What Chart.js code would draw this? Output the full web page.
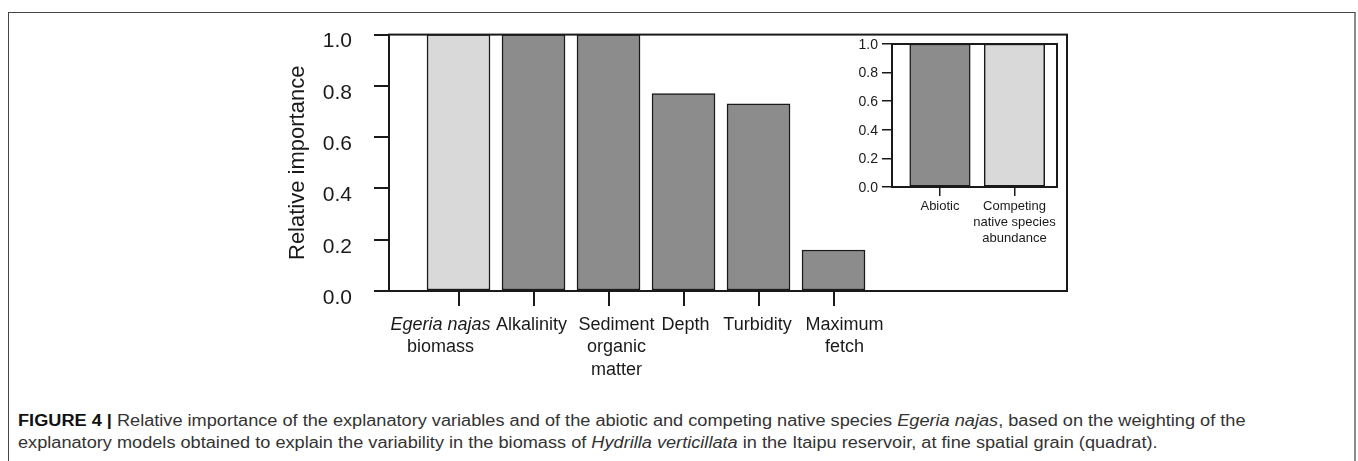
<!DOCTYPE html>
<html>
<head>
<meta charset="utf-8">
<script src="https://cdn.jsdelivr.net/npm/chart.js@4.4.0/dist/chart.umd.min.js"></script>
<style>
  html, body { margin: 0; padding: 0; background: #fff; }
  body { width: 1358px; height: 461px; position: relative; overflow: hidden; font-family: 'Liberation Sans', Arial, sans-serif; }
  #frame { position: absolute; left: 8px; top: 12px; width: 1348px; height: 470px; box-sizing: border-box;
           border-top: 1px solid #444; border-left: 1px solid #444; border-right: 2px solid #8a8a8a; }
  #mainChart { position: absolute; left: 0; top: 0; }
  #insetChart { position: absolute; left: 800px; top: 0; }
  #caption { position: absolute; left: 18px; top: 410px; font-size: 16px; line-height: 22px; color: #333; }
  #caption .line { display: block; white-space: nowrap; transform-origin: left center; }
  #caption b { color: #111; }
</style>
</head>
<body>
<div id="frame"></div>
<canvas id="mainChart" width="1358" height="400"></canvas>
<canvas id="insetChart" width="300" height="280"></canvas>
<div id="caption">
  <span class="line" id="cap1"><b>FIGURE 4 |</b> Relative importance of the explanatory variables and of the abiotic and competing native species <i>Egeria najas</i>, based on the weighting of the</span>
  <span class="line" id="cap2">explanatory models obtained to explain the variability in the biomass of <i>Hydrilla verticillata</i> in the Itaipu reservoir, at fine spatial grain (quadrat).</span>
</div>
<script>
// Main chart data
const variableLabels = [
  ['Egeria najas', 'biomass'],
  ['Alkalinity'],
  ['Sediment', 'organic', 'matter'],
  ['Depth'],
  ['Turbidity'],
  ['Maximum', 'fetch']
];
const italicLines = ['Egeria najas'];
const variableGroup = ['competing', 'abiotic', 'abiotic', 'abiotic', 'abiotic', 'abiotic'];
const importance = [1.0, 1.0, 1.0, 0.77, 0.73, 0.16];

// Inset data
const groupLabels = [['Abiotic'], ['Competing', 'native species', 'abundance']];
const groupKeys = ['abiotic', 'competing'];
const groupImportance = [1.0, 1.0];

const yTicks = [0, 0.2, 0.4, 0.6, 0.8, 1.0];

// Look
const ink = '#1a1a1a';
const fills = { abiotic: '#8c8c8c', competing: '#d9d9d9' };
// label nudges (px) as in the original figure
const labelShift = [-18, -2, 8, 2, -1, 11];

// draws box around plot area
const boxPlugin = {
  id: 'box',
  afterDatasetsDraw(chart) {
    const { ctx, chartArea: a } = chart;
    ctx.save();
    ctx.strokeStyle = ink;
    ctx.lineWidth = 2;
    ctx.strokeRect(a.left, a.top, a.right - a.left, a.bottom - a.top);
    ctx.restore();
  }
};

// x labels of main chart (needs mixed italic)
const xLabelPlugin = {
  id: 'xLabels',
  afterDraw(chart) {
    const { ctx, scales: { x } } = chart;
    ctx.save();
    ctx.fillStyle = ink;
    ctx.textAlign = 'center';
    ctx.textBaseline = 'middle';
    variableLabels.forEach((lines, i) => {
      const px = x.getPixelForValue(i + 1) + labelShift[i];
      lines.forEach((line, j) => {
        const it = italicLines.includes(line) ? 'italic ' : '';
        ctx.font = it + "18px 'Liberation Sans', Arial, sans-serif";
        ctx.fillText(line, px, x.top + 34 + j * 22.5);
      });
    });
    ctx.restore();
  }
};

Chart.defaults.font.family = "'Liberation Sans', Arial, sans-serif";
Chart.defaults.color = ink;

new Chart(document.getElementById('mainChart'), {
  type: 'bar',
  data: {
    datasets: [{
      data: importance.map((v, i) => ({ x: i + 1, y: v })),
      backgroundColor: variableGroup.map(g => fills[g]),
      borderColor: ink,
      borderWidth: 1.5,
      borderSkipped: false,
      barThickness: 63
    }]
  },
  options: {
    responsive: false,
    animation: false,
    layout: { padding: { left: 270, top: 33, right: 291, bottom: 9 } },
    plugins: { legend: { display: false }, tooltip: { enabled: false } },
    scales: {
      x: {
        type: 'linear',
        min: 0.073,
        max: 9.113,
        offset: false,
        afterBuildTicks: s => { s.ticks = variableLabels.map((_, i) => ({ value: i + 1 })); },
        afterFit: s => { s.height = 100; },
        ticks: { callback: () => '' },
        grid: { offset: false, drawOnChartArea: false, drawTicks: true, tickLength: 15, color: ink, lineWidth: 2 },
        border: { display: true, color: ink, width: 2 }
      },
      y: {
        min: 0,
        max: 1,
        afterBuildTicks: s => { s.ticks = yTicks.map(v => ({ value: v })); },
        afterFit: s => { s.width = 119; },
        ticks: { callback: v => v.toFixed(1), font: { size: 21 }, color: ink, padding: 22, labelOffset: 7 },
        grid: { drawOnChartArea: false, tickLength: 15, color: ink, lineWidth: 2 },
        border: { color: ink, width: 2 },
        title: { display: true, text: 'Relative importance', font: { size: 22 }, color: ink, padding: { top: 15, bottom: 0 } }
      }
    }
  },
  plugins: [boxPlugin, xLabelPlugin]
});

new Chart(document.getElementById('insetChart'), {
  type: 'bar',
  data: {
    datasets: [{
      data: groupImportance.map((v, i) => ({ x: i + 1, y: v })),
      backgroundColor: groupKeys.map(g => fills[g]),
      borderColor: ink,
      borderWidth: 1.5,
      borderSkipped: false,
      barThickness: 60.5
    }]
  },
  options: {
    responsive: false,
    animation: false,
    layout: { padding: { left: 40, top: 44, right: 43, bottom: 33 } },
    plugins: { legend: { display: false }, tooltip: { enabled: false } },
    scales: {
      x: {
        type: 'linear',
        min: 0.356,
        max: 2.571,
        offset: false,
        afterBuildTicks: s => { s.ticks = groupLabels.map((_, i) => ({ value: i + 1 })); },
        afterFit: s => { s.height = 60; },
        ticks: { callback: (v, i) => groupLabels[i], font: { size: 13 }, color: ink, padding: 3, maxRotation: 0, autoSkip: false },
        grid: { offset: false, drawOnChartArea: false, tickLength: 9, color: ink, lineWidth: 1.5 },
        border: { display: true, color: ink, width: 1.5 }
      },
      y: {
        min: 0,
        max: 1,
        afterBuildTicks: s => { s.ticks = yTicks.map(v => ({ value: v })); },
        afterFit: s => { s.width = 52; },
        ticks: { callback: v => v.toFixed(1), font: { size: 14 }, color: ink, padding: 4, labelOffset: 1 },
        grid: { drawOnChartArea: false, tickLength: 10, color: ink, lineWidth: 1.5 },
        border: { color: ink, width: 1.5 }
      }
    }
  },
  plugins: [boxPlugin]
});

// squeeze caption to the width of the original first line
const cap1 = document.getElementById('cap1');
const cap2 = document.getElementById('cap2');
const k = 1228 / cap1.scrollWidth;
cap1.style.transform = 'scaleX(' + k + ')';
cap2.style.transform = 'scaleX(' + k + ')';
</script>
</body>
</html>
